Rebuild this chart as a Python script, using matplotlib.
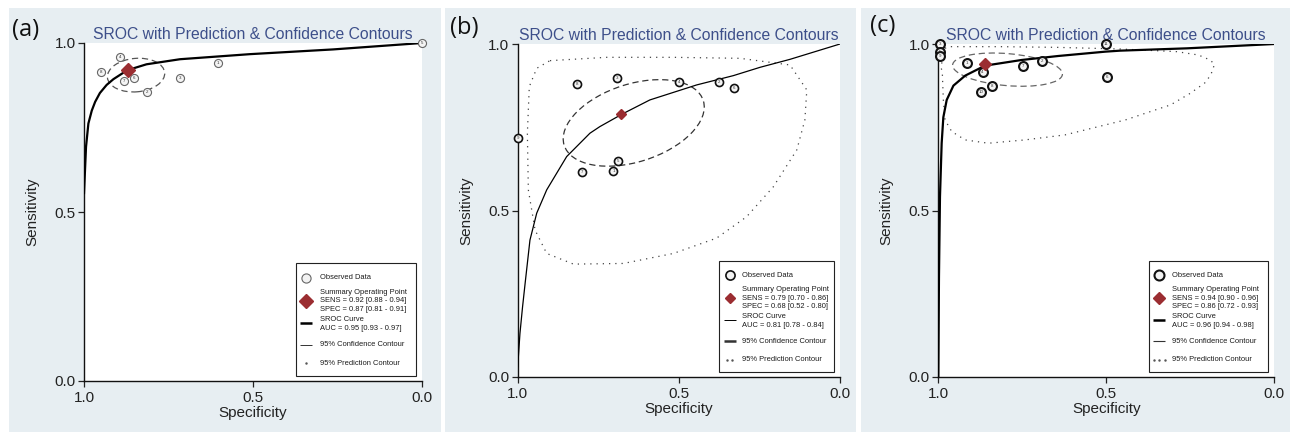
import matplotlib
matplotlib.use("Agg")
import matplotlib.pyplot as plt
from matplotlib.patches import Ellipse, Rectangle

W, H = 1292, 433
PANEL_BG = "#e7eef2"
TITLE = "SROC with Prediction & Confidence Contours"

# ---------------- panel (a) ----------------
a_spec = [0.603, 0.813, 0.716, 0.893, 0.0, 0.852, 0.881, 0.950]
a_sens = [0.940, 0.855, 0.896, 0.959, 1.0, 0.897, 0.888, 0.915]
a_ids = ["1", "2", "3", "4", "5", "6", "7", "8"]
a_summary = (0.87, 0.92)
a_curve_spec = [1.0, 0.994, 0.987, 0.977, 0.967, 0.953, 0.933, 0.913, 0.879,
                0.854, 0.815, 0.716, 0.509, 0.263, 0.0]
a_curve_sens = [0.556, 0.693, 0.762, 0.800, 0.826, 0.852, 0.876, 0.893, 0.915,
                0.925, 0.937, 0.952, 0.967, 0.981, 1.0]
# confidence region: centre spec, centre sens, width, height, tilt
a_conf = (0.846, 0.905, 0.17, 0.099, -5)
a_pred_spec = []
a_pred_sens = []
a_stats = ["SENS = 0.92 [0.88 - 0.94]", "SPEC = 0.87 [0.81 - 0.91]",
           "AUC = 0.95 [0.93 - 0.97]"]

# ---------------- panel (b) ----------------
b_spec = [0.815, 0.693, 0.500, 0.375, 0.328, 1.0, 0.800, 0.703, 0.689]
b_sens = [0.879, 0.899, 0.886, 0.886, 0.869, 0.717, 0.617, 0.619, 0.650]
b_ids = ["8", "3", "4", "2", "6", "9", "7", "1", "5"]
b_summary = (0.68, 0.79)
b_curve_spec = [1.0, 0.993, 0.985, 0.977, 0.962, 0.941, 0.910, 0.848, 0.776,
                0.745, 0.675, 0.590, 0.445, 0.331, 0.248, 0.155, 0.0]
b_curve_sens = [0.031, 0.131, 0.210, 0.281, 0.411, 0.492, 0.562, 0.662, 0.732,
                0.752, 0.790, 0.832, 0.877, 0.905, 0.930, 0.954, 1.0]
b_conf = (0.64, 0.763, 0.452, 0.234, -17)
b_pred_spec = [0.900, 0.724, 0.517, 0.310, 0.155, 0.103, 0.109, 0.134, 0.207,
               0.290, 0.383, 0.517, 0.672, 0.827, 0.910, 0.946, 0.967, 0.970,
               0.964, 0.941, 0.900]
b_pred_sens = [0.950, 0.960, 0.960, 0.957, 0.937, 0.862, 0.772, 0.682, 0.571,
               0.481, 0.417, 0.371, 0.341, 0.339, 0.371, 0.441, 0.562, 0.732,
               0.872, 0.927, 0.950]
b_stats = ["SENS = 0.79 [0.70 - 0.86]", "SPEC = 0.68 [0.52 - 0.80]",
           "AUC = 0.81 [0.78 - 0.84]"]

# ---------------- panel (c) ----------------
c_spec = [0.995, 0.995, 0.995, 0.500, 0.914, 0.868, 0.749, 0.692, 0.841, 0.873, 0.497]
c_sens = [1.0, 0.977, 0.964, 1.0, 0.942, 0.915, 0.934, 0.949, 0.875, 0.855, 0.900]
c_ids = ["3", "5", "9", "11", "1", "4", "7", "2", "8", "10", "6"]
c_summary = (0.86, 0.94)
c_curve_spec = [1.0, 0.998, 0.995, 0.990, 0.985, 0.975, 0.955, 0.920, 0.861,
                0.752, 0.643, 0.503, 0.459, 0.260, 0.0]
c_curve_sens = [0.0, 0.300, 0.541, 0.702, 0.780, 0.832, 0.875, 0.905, 0.935,
                0.952, 0.964, 0.977, 0.980, 0.987, 1.0]
c_conf = (0.794, 0.923, 0.328, 0.096, 5)
c_pred_spec = [0.980, 0.971, 0.816, 0.650, 0.459, 0.290, 0.226, 0.191, 0.178,
               0.189, 0.207, 0.250, 0.309, 0.369, 0.443, 0.623, 0.742, 0.851,
               0.920, 0.960, 0.980, 0.985, 0.988, 0.992, 0.980]
c_pred_sens = [0.987, 0.992, 0.992, 0.990, 0.985, 0.977, 0.967, 0.952, 0.939,
               0.907, 0.883, 0.852, 0.817, 0.797, 0.772, 0.727, 0.712, 0.702,
               0.712, 0.737, 0.772, 0.832, 0.912, 0.932, 0.987]
c_stats = ["SENS = 0.94 [0.90 - 0.96]", "SPEC = 0.86 [0.72 - 0.93]",
           "AUC = 0.96 [0.94 - 0.98]"]

styles = {
    "a": dict(circ_ec="#666666", circ_lw=0.8, circ_ms=5.8, curve_lw=1.6,
              conf_c="#555555", conf_lw=0.9, diam_ms=7,
              leg_curve_lw=1.8, leg_conf_lw=0.7, leg_pred_n=1),
    "b": dict(circ_ec="#111111", circ_lw=1.2, circ_ms=5.8, curve_lw=0.9,
              conf_c="#333333", conf_lw=0.9, diam_ms=5.5,
              leg_curve_lw=0.7, leg_conf_lw=1.8, leg_pred_n=2),
    "c": dict(circ_ec="#111111", circ_lw=1.5, circ_ms=6.4, curve_lw=1.6,
              conf_c="#666666", conf_lw=0.9, diam_ms=6.5,
              leg_curve_lw=1.8, leg_conf_lw=0.8, leg_pred_n=3),
}

plt.rcParams["font.family"] = ["Liberation Sans", "DejaVu Sans"]

fig = plt.figure(figsize=(W / 100, H / 100), dpi=100)


def px_rect(left, top, right, bottom):
    return [left / W, 1 - bottom / H, (right - left) / W, (bottom - top) / H]


def draw_legend(ax, st, stats):
    fs = 5.4
    ax.add_patch(Rectangle((0.626, 0.015), 0.356, 0.334, transform=ax.transAxes,
                           fc="white", ec="#222222", lw=0.8, zorder=8))
    mx, tx = 0.658, 0.697
    kw = dict(transform=ax.transAxes, zorder=9, clip_on=False)
    ax.plot([mx], [0.306], "o", ms=st["circ_ms"] + 0.8, mfc="#f2f2f2",
            mec=st["circ_ec"], mew=st["circ_lw"], **kw)
    ax.plot([mx], [0.237], "D", ms=st["diam_ms"], color="#9b2d31", **kw)
    ax.plot([mx - 0.018, mx + 0.018], [0.172, 0.172], color="black",
            lw=st["leg_curve_lw"], solid_capstyle="butt", **kw)
    ax.plot([mx - 0.018, mx + 0.018], [0.107, 0.107], color="#333333",
            lw=st["leg_conf_lw"], solid_capstyle="butt", **kw)
    n = st["leg_pred_n"]
    dots_x = [mx + (i - (n - 1) / 2) * 0.016 for i in range(n)]
    ax.plot(dots_x, [0.052] * n, ".", ms=1.5, color="#555555", **kw)
    tkw = dict(transform=ax.transAxes, fontsize=fs, color="#1a1a1a",
               ha="left", va="center", linespacing=1.3, zorder=9)
    ax.text(tx, 0.306, "Observed Data", **tkw)
    ax.text(tx, 0.237, "Summary Operating Point\n" + stats[0] + "\n" + stats[1], **tkw)
    ax.text(tx, 0.168, "SROC Curve\n" + stats[2], **tkw)
    ax.text(tx, 0.107, "95% Confidence Contour", **tkw)
    ax.text(tx, 0.052, "95% Prediction Contour", **tkw)


def draw_panel(key, bg, axrect, tag_xy, spec, sens, ids, summary,
               curve_spec, curve_sens, conf, pred_spec, pred_sens, stats):
    st = styles[key]
    fig.add_artist(Rectangle((bg[0] / W, 1 - bg[3] / H), (bg[2] - bg[0]) / W,
                             (bg[3] - bg[1]) / H, transform=fig.transFigure,
                             fc=PANEL_BG, ec="none", zorder=-1))
    fig.text(tag_xy[0] / W, 1 - tag_xy[1] / H, "(" + key + ")", fontsize=17,
             family=["Open Sans", "DejaVu Sans"], ha="left", va="center",
             color="#111111")

    ax = fig.add_axes(px_rect(*axrect))
    ax.set_facecolor("white")
    ax.set_xlim(1, 0)
    ax.set_ylim(0, 1)
    for side in ("top", "right"):
        ax.spines[side].set_visible(False)
    for side in ("left", "bottom"):
        ax.spines[side].set_linewidth(1.0)
        ax.spines[side].set_color("#111111")
    ax.set_xticks([1.0, 0.5, 0.0])
    ax.set_yticks([0.0, 0.5, 1.0])
    ax.set_xticklabels(["1.0", "0.5", "0.0"])
    ax.set_yticklabels(["0.0", "0.5", "1.0"])
    ax.tick_params(direction="out", length=4, width=0.9, labelsize=11,
                   colors="#222222", pad=2)
    ax.tick_params(axis="x", pad=3)
    ax.set_xlabel("Specificity", fontsize=11, color="#222222", labelpad=1)
    ax.set_ylabel("Sensitivity", fontsize=11, color="#222222", labelpad=11)
    ax.set_title(TITLE, fontsize=11.3, color="#3d4f8a", pad=3)

    # prediction contour
    if pred_spec:
        ax.plot(pred_spec, pred_sens, color="#444444", lw=0.9,
                linestyle=(0, (1, 4)), zorder=2)
    # confidence contour
    cx, cy, cw, ch, ang = conf
    ax.add_patch(Ellipse((cx, cy), cw, ch, angle=ang, fill=False,
                         ec=st["conf_c"], lw=st["conf_lw"],
                         linestyle=(0, (5, 3)), zorder=3))
    # SROC curve
    ax.plot(curve_spec, curve_sens, color="black", lw=st["curve_lw"], zorder=4)
    # observed studies
    ax.plot(spec, sens, "o", ms=st["circ_ms"], mfc="#f4f4f4",
            mec=st["circ_ec"], mew=st["circ_lw"], clip_on=False, zorder=5)
    for x, y, t in zip(spec, sens, ids):
        ax.text(x, y, t, fontsize=3.2, ha="center", va="center",
                color="#333333", zorder=6, clip_on=False)
    # summary operating point
    ax.plot([summary[0]], [summary[1]], "D", ms=st["diam_ms"],
            color="#9b2d31", zorder=7)

    draw_legend(ax, st, stats)
    return ax


draw_panel("a", (9, 8, 441, 432), (84, 43, 422, 381), (12, 30),
           a_spec, a_sens, a_ids, a_summary, a_curve_spec, a_curve_sens,
           a_conf, a_pred_spec, a_pred_sens, a_stats)
draw_panel("b", (445, 8, 856, 432), (517.7, 44, 840, 377), (450, 28),
           b_spec, b_sens, b_ids, b_summary, b_curve_spec, b_curve_sens,
           b_conf, b_pred_spec, b_pred_sens, b_stats)
draw_panel("c", (861, 8, 1290, 432), (938.3, 44, 1274.3, 377), (870, 26),
           c_spec, c_sens, c_ids, c_summary, c_curve_spec, c_curve_sens,
           c_conf, c_pred_spec, c_pred_sens, c_stats)

fig.savefig("out.png", dpi=100, facecolor="white")
